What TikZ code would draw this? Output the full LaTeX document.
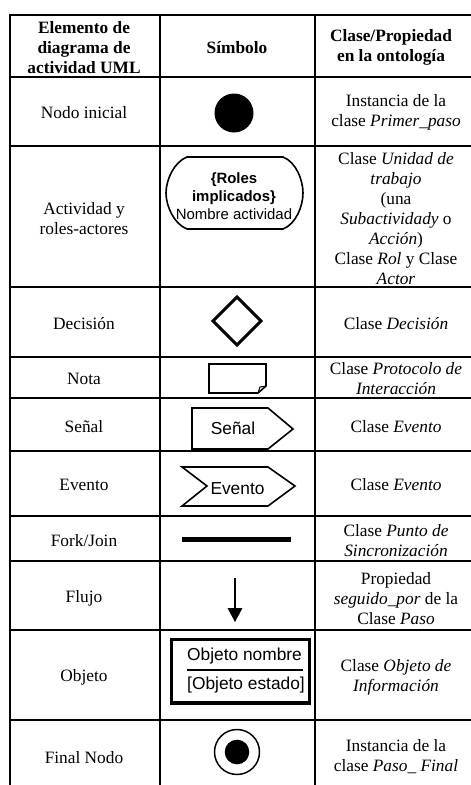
\documentclass[tikz,border=0pt]{standalone}
\usepackage{fontspec}
\setmainfont{Liberation Serif}
\setsansfont{Liberation Sans}
\tikzset{
  grid/.style={line width=1.5pt,black},
  cell/.style={font=\fontsize{13}{15}\selectfont,align=center,inner sep=0pt,text=black,yshift=-0.4pt},
  head/.style={cell,font=\fontsize{13}{15}\selectfont\bfseries},
  sym/.style={draw=black,line width=1.2pt,line join=miter},
  symtext/.style={font=\sffamily\fontsize{13}{15}\selectfont,inner sep=0pt,align=center,yshift=-0.8pt}
}
\begin{document}
\begin{tikzpicture}[x=0.75pt,y=-0.75pt]
\useasboundingbox (0,0) rectangle (471,785);
% table rules
\draw[grid] (10,785) -- (10,15) -- (471,15);
\draw[grid] (159.5,15) -- (159.5,785);
\draw[grid] (315,15) -- (315,785);
\foreach \r in {76.7,145.7,287.3,356.7,398.3,451,516,561,630.3,720}
  \draw[grid] (10,\r) -- (471,\r);
% header
\node[head] (h1) at (84,47.5) {Elemento de\\diagrama de\\actividad UML};
\node[head] (h2) at (237,47) {Símbolo};
\node[head] (h3) at (391,46.5) {Clase/Propiedad\\en la ontología};
% first column
\node[cell] (a1) at (84,112) {Nodo inicial};
\node[cell] (a2) at (84,218) {Actividad y\\roles-actores};
\node[cell] (a3) at (84,323) {Decisión};
\node[cell] (a4) at (84,378) {Nota};
\node[cell] (a5) at (84,426) {Señal};
\node[cell] (a6) at (84,484) {Evento};
\node[cell] (a7) at (84,540) {Fork/Join};
\node[cell] (a8) at (84,598) {Flujo};
\node[cell] (a9) at (84,677) {Objeto};
\node[cell] (a10) at (84,757) {Final Nodo};
% third column
\node[cell] (c1) at (396,112) {Instancia de la\\clase \textit{Primer\_paso}};
\node[cell] (c2) at (396,218) {Clase \textit{Unidad de}\\\textit{trabajo}\\(una\\\textit{Subactividady} o\\\textit{Acción})\\Clase \textit{Rol} y Clase\\\textit{Actor}};
\node[cell] (c3) at (396,323) {Clase \textit{Decisión}};
\node[cell] (c4) at (396,378.5) {Clase \textit{Protocolo de}\\\textit{Interacción}};
\node[cell] (c5) at (396,426) {Clase \textit{Evento}};
\node[cell] (c6) at (396,484) {Clase \textit{Evento}};
\node[cell] (c7) at (396,540) {Clase \textit{Punto de}\\\textit{Sincronización}};
\node[cell] (c8) at (396,598) {Propiedad\\\textit{seguido\_por} de la\\Clase \textit{Paso}};
\node[cell] (c9) at (396,677) {Clase \textit{Objeto de}\\\textit{Información}};
\node[cell] (c10) at (396,756) {Instancia de la\\clase \textit{Paso\_ Final}};
% symbols
\fill[black] (234,113) circle[radius=19.5];
\draw[sym] (187,157) -- (283,157) .. controls (296,162) and (303,180) .. (303,193)
  .. controls (303,206) and (296,224) .. (283,229) -- (187,229)
  .. controls (174,224) and (166,206) .. (166,193)
  .. controls (166,180) and (174,162) .. (187,157) -- cycle;
\node[symtext,font=\sffamily\fontsize{11.2}{13.5}\selectfont,yshift=0.4pt] (act) at (234,196)
  {\textbf{\{Roles}\\\textbf{implicados\}}\\Nombre actividad};
\draw[sym,line width=2.2pt] (237,297) -- (261,321) -- (237,345) -- (213,321) -- cycle;
\draw[sym] (209,364) -- (266,364) -- (266,386) -- (258,393) -- (209,393) -- cycle;
\draw[line width=0.8pt] (266,386) -- (260,387) -- (258,393);
\draw[sym] (192,408) -- (268,408) -- (293,429) -- (268,449) -- (192,449) -- cycle;
\node[symtext,yshift=0.8pt] (sen) at (233,428) {Señal};
\draw[sym] (182,467) -- (268,467) -- (295,486) -- (268,506) -- (182,506) -- (207,486) -- cycle;
\node[symtext] (evt) at (237.5,488) {Evento};
\fill[black] (182,536.5) rectangle (291,541.8);
\coordinate (f1) at (235,578);
\coordinate (f2) at (235,622);
\draw[line width=1pt] (f1) -- (235,610);
\fill[black] (f2) -- (227.5,608) -- (242.5,608) -- cycle;
\draw[line width=2.6pt] (171.5,639.5) rectangle (309.5,703);
\node[symtext] (ob1) at (244.5,654.5) {Objeto nombre};
\draw[line width=2.2pt] (187,670) -- (303,670);
\node[symtext] (ob2) at (246,683.5) {[Objeto estado]};
\draw[line width=1.1pt] (237,752) circle[radius=22.5];
\fill[black] (237,752) circle[radius=12.3];
\end{tikzpicture}
\end{document}
